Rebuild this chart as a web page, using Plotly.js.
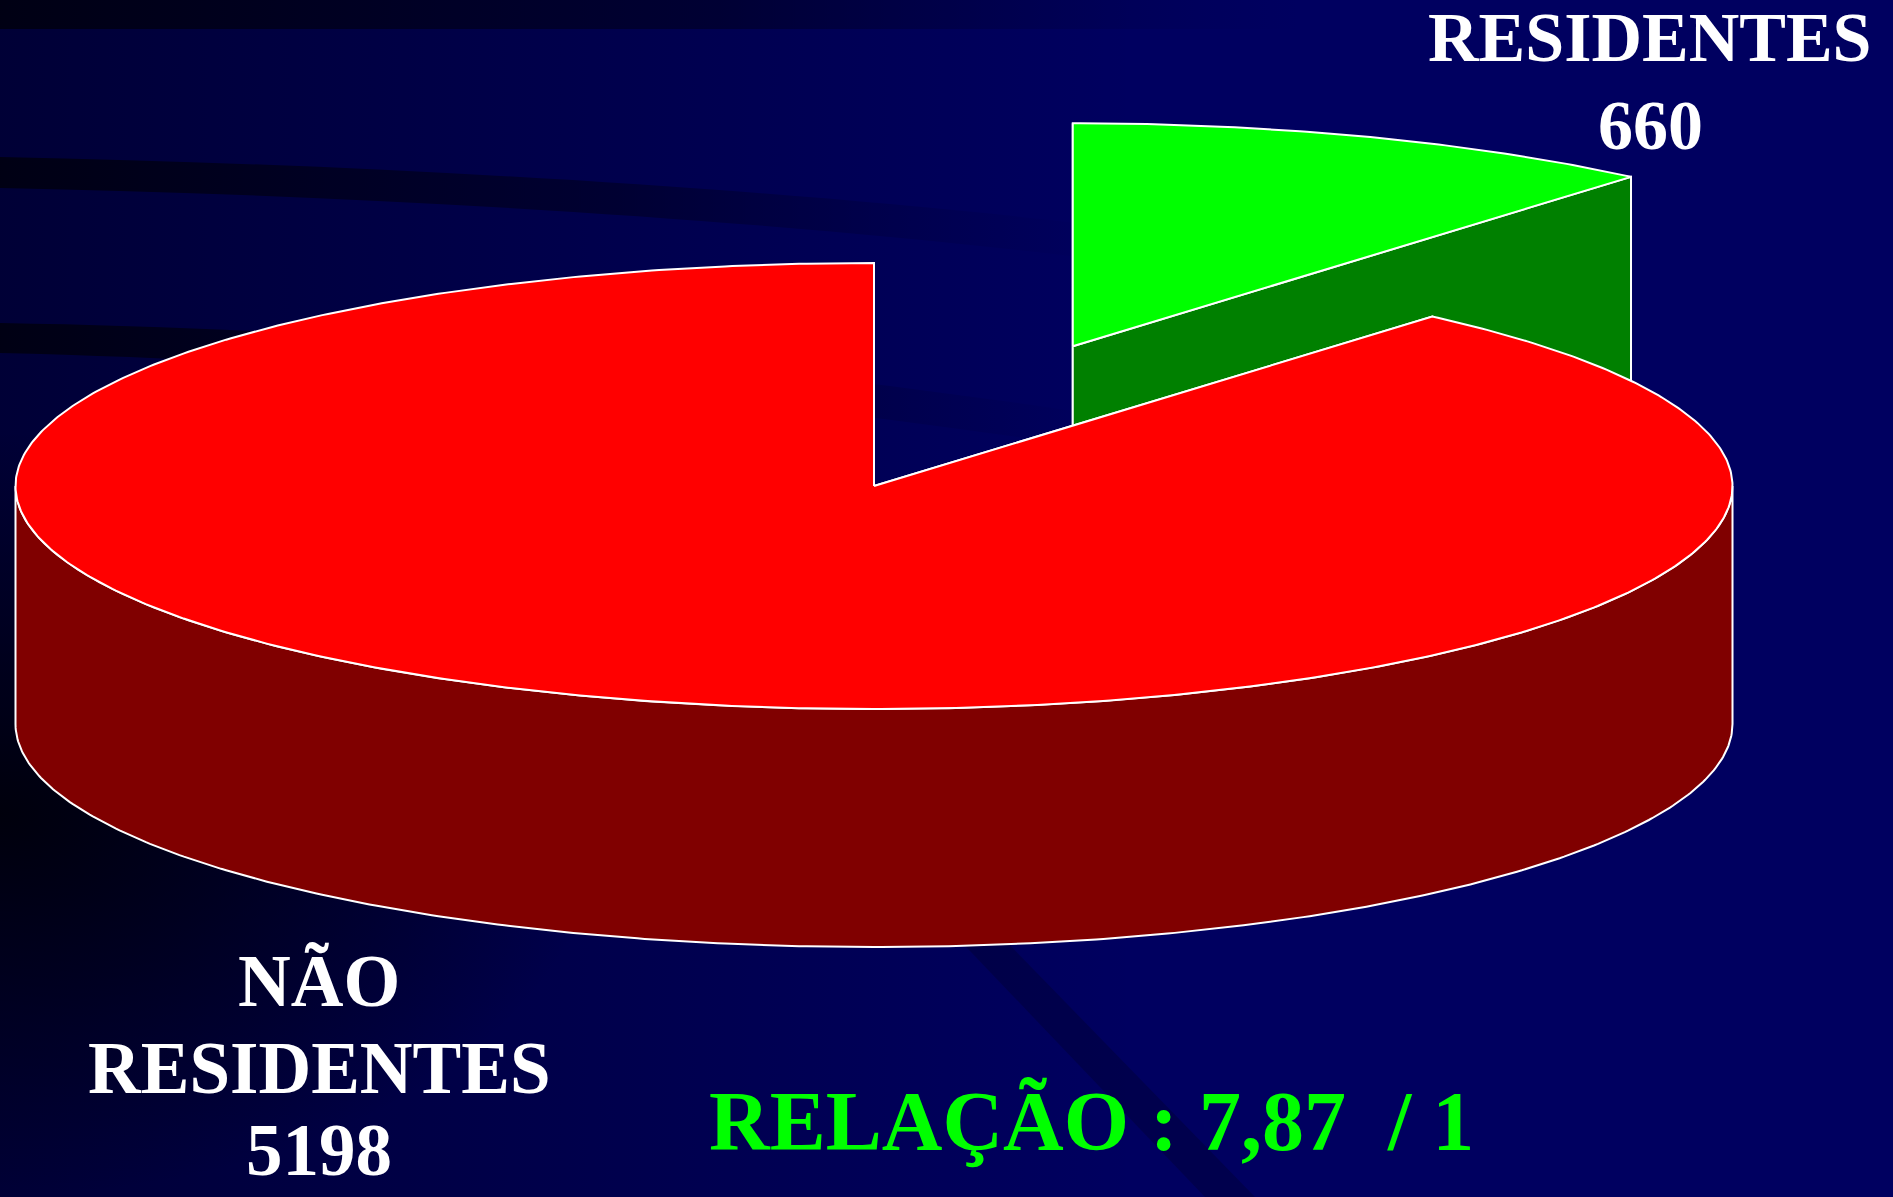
<!DOCTYPE html>
<html>
<head>
<meta charset="utf-8">
<script src="https://cdn.plot.ly/plotly-3.0.1.min.js"></script>
<style>
html,body{margin:0;padding:0;background:#000060;overflow:hidden;}
#bg{position:absolute;left:0;top:0;}
#chart{position:absolute;left:0;top:0;width:1893px;height:1197px;}
</style>
</head>
<body>
<svg id="bg" width="1893" height="1197" xmlns="http://www.w3.org/2000/svg">
  <defs>
    <linearGradient id="lg" x1="0" y1="0" x2="1" y2="0">
      <stop offset="0" stop-color="#000014" stop-opacity="0.55"/>
      <stop offset="0.6" stop-color="#000014" stop-opacity="0"/>
    </linearGradient>
    <linearGradient id="band" x1="0" y1="0" x2="1" y2="0">
      <stop offset="0" stop-color="#000012" stop-opacity="0.95"/>
      <stop offset="0.55" stop-color="#000020" stop-opacity="0.6"/>
      <stop offset="1" stop-color="#000040" stop-opacity="0"/>
    </linearGradient>
    <radialGradient id="rg" cx="0" cy="0.68" r="0.32">
      <stop offset="0" stop-color="#00000a" stop-opacity="0.95"/>
      <stop offset="1" stop-color="#00000a" stop-opacity="0"/>
    </radialGradient>
  </defs>
  <rect x="0" y="0" width="1893" height="1197" fill="#000060"/>
  <rect x="0" y="0" width="1893" height="1197" fill="url(#lg)"/>
  <rect x="0" y="0" width="1893" height="1197" fill="url(#rg)"/>
  <rect x="0" y="0" width="1300" height="29" fill="url(#band)"/>
  <path d="M0,157 C400,165 800,190 1120,228 L1120,262 C800,222 400,196 0,188 Z" fill="url(#band)"/>
  <path d="M0,323 C400,330 750,362 1120,418 L1120,452 C750,396 400,363 0,353 Z" fill="url(#band)"/>
  <path d="M950,930 L995,930 L1255,1197 L1205,1197 Z" fill="#000020" fill-opacity="0.3"/>
</svg>
<div id="chart"></div>
<script>
// ---- data ----
const labels = ["RESIDENTES", "NÃO RESIDENTES"];
const labelLines = [["RESIDENTES"], ["NÃO", "RESIDENTES"]];
const values = [660, 5198];
const ratioTitle = "RELAÇÃO";

// ---- styles / geometry ----
const W = 1893, H = 1197;
const topColors = ["#00ff00", "#ff0000"];
const sideColors = ["#008000", "#800000"];
const explodeFrac = [0.668, 0];
const geo = {cx: 874, cy: 486, rx: 858.5, ry: 223, depth: 238, startDeg: 90};
const labelPos = [
  {x: 1650, ys: [37, 125], size: 70},
  {x: 319, ys: [981, 1068, 1150], size: 73}
];

const total = values.reduce((a, b) => a + b, 0);
const rad = d => d * Math.PI / 180;

function pt(th, ox, oy, dz) {
  return [geo.cx + ox + geo.rx * Math.cos(rad(th)), geo.cy + oy - geo.ry * Math.sin(rad(th)) + dz];
}
function arc(a, b, ox, oy, dz) {
  const n = Math.max(2, Math.ceil(Math.abs(b - a) / 0.5));
  const out = [];
  for (let i = 0; i <= n; i++) out.push(pt(a + (b - a) * i / n, ox, oy, dz));
  return out;
}
function poly(points, fill) {
  const xs = points.map(p => p[0]), ys = points.map(p => p[1]);
  xs.push(xs[0]); ys.push(ys[0]);
  return {type: "scatter", mode: "lines", x: xs, y: ys, fill: "toself", fillcolor: fill,
          line: {color: "#ffffff", width: 2}, hoverinfo: "skip", showlegend: false};
}

// slices (clockwise from 12 o'clock)
let a = geo.startDeg;
const slices = values.map((v, i) => {
  const sweep = v / total * 360;
  const a0 = a, a1 = a - sweep;
  a = a1;
  const mid = (a0 + a1) / 2;
  const ox = explodeFrac[i] * geo.rx * Math.cos(rad(mid));
  const oy = -explodeFrac[i] * geo.ry * Math.sin(rad(mid));
  return {i, a0, a1, ox, oy};
});

// painter's order: farther (smaller y) first
const order = slices.slice().sort((p, q) => (geo.cy + p.oy) - (geo.cy + q.oy));
const traces = [];
order.forEach(s => {
  const c = [geo.cx + s.ox, geo.cy + s.oy];
  // radial faces
  [s.a0, s.a1].forEach(th => {
    const r0 = pt(th, s.ox, s.oy, 0), r1 = pt(th, s.ox, s.oy, geo.depth);
    traces.push(poly([c, r0, r1, [c[0], c[1] + geo.depth]], sideColors[s.i]));
  });
  // outer wall (front-facing part only)
  const lo = s.a1, hi = s.a0;
  for (let k = -2; k <= 2; k++) {
    const f0 = Math.max(lo, 180 + 360 * k), f1 = Math.min(hi, 360 + 360 * k);
    if (f1 > f0) {
      const topArc = arc(f0, f1, s.ox, s.oy, 0);
      const botArc = arc(f1, f0, s.ox, s.oy, geo.depth);
      traces.push(poly(topArc.concat(botArc), sideColors[s.i]));
    }
  }
  // top face
  traces.push(poly([c].concat(arc(s.a0, s.a1, s.ox, s.oy, 0)), topColors[s.i]));
});

// annotations
const fam = "Liberation Serif, 'Times New Roman', serif";
const annotations = [];
values.forEach((v, i) => {
  const lines = labelLines[i].concat([String(v)]);
  lines.forEach((t, j) => {
    annotations.push({xref: "x", yref: "y", x: labelPos[i].x, y: labelPos[i].ys[j], text: t,
      showarrow: false, xanchor: "center", yanchor: "middle",
      font: {family: fam, size: labelPos[i].size, color: "#ffffff", weight: "bold"}});
  });
});
const ratio = Math.floor(values[1] / values[0] * 100) / 100;
const ratioText = ratioTitle + " : " + ratio.toFixed(2).replace(".", ",") + " \u00a0/ 1";
annotations.push({xref: "x", yref: "y", x: 1091, y: 1121, text: ratioText, showarrow: false,
  xanchor: "center", yanchor: "middle",
  font: {family: fam, size: 84, color: "#00ff00", weight: "bold"}});

const layout = {
  width: W, height: H,
  margin: {l: 0, r: 0, t: 0, b: 0, pad: 0},
  paper_bgcolor: "rgba(0,0,0,0)", plot_bgcolor: "rgba(0,0,0,0)",
  xaxis: {range: [0, W], visible: false, fixedrange: true},
  yaxis: {range: [H, 0], visible: false, fixedrange: true},
  showlegend: false,
  annotations: annotations
};
Plotly.newPlot("chart", traces, layout, {staticPlot: true, displayModeBar: false});
</script>
</body>
</html>
